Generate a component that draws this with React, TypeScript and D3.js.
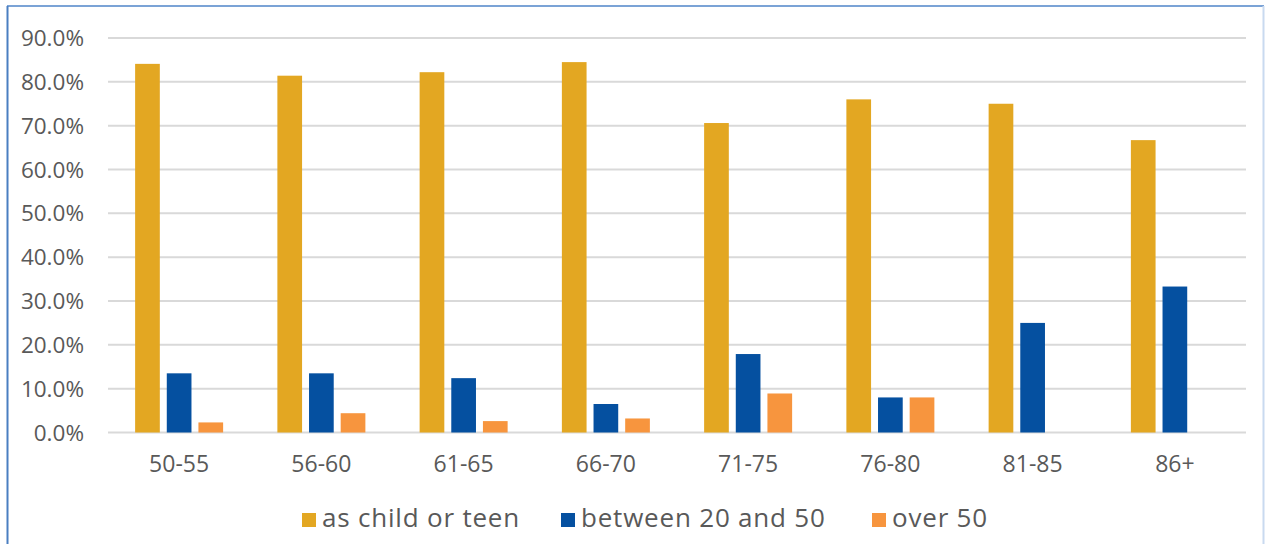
import React from "react";
import * as d3 from "d3";

const categories = ["50-55", "56-60", "61-65", "66-70", "71-75", "76-80", "81-85", "86+"];
const seriesNames = ["as child or teen", "between 20 and 50", "over 50"];
const childOrTeen = [0.841, 0.814, 0.822, 0.845, 0.706, 0.76, 0.75, 0.667];
const between20and50 = [0.135, 0.135, 0.124, 0.065, 0.179, 0.08, 0.25, 0.333];
const over50 = [0.023, 0.044, 0.026, 0.032, 0.089, 0.08, 0, 0];
const yTicks = [0, 0.1, 0.2, 0.3, 0.4, 0.5, 0.6, 0.7, 0.8, 0.9];
const colors = ["#E3A722", "#0550A0", "#F7953E"];

const W = 1265;
const H = 544;
const FONT = "'Open Sans', sans-serif";

export default function App() {
  const seriesValues = [childOrTeen, between20and50, over50];
  const x = d3.scaleBand<string>().domain(categories).range([108, 1246]).paddingInner(0).paddingOuter(0);
  const groupW = 88;
  const xSub = d3.scaleBand<string>().domain(seriesNames).range([0, groupW]).paddingInner(0.22);
  const y = d3.scaleLinear().domain([0, 0.9]).range([432.5, 38]);
  const fmt = d3.format(".1%");
  const off = (x.bandwidth() - groupW) / 2;

  const legendItems = [
    { name: seriesNames[0], x: 302, color: colors[0] },
    { name: seriesNames[1], x: 561, color: colors[1] },
    { name: seriesNames[2], x: 872, color: colors[2] },
  ];

  return (
    <svg width={W} height={H} style={{ position: "absolute", left: 0, top: 0, display: "block" }}>
      <rect x={0} y={0} width={W} height={H} fill="#fff" />
      <line x1={7} y1={6} x2={1264} y2={6} stroke="#7BA3D6" strokeWidth={2} />
      <line x1={7.5} y1={6} x2={7.5} y2={544} stroke="#4A7FC1" strokeWidth={2} />
      <line x1={1263.5} y1={6} x2={1263.5} y2={544} stroke="#C9DAF0" strokeWidth={2} />
      {yTicks.map((t) => (
        <g key={t}>
          <line x1={108} x2={1246} y1={y(t)} y2={y(t)} stroke="#D9D9D9" strokeWidth={2} />
          <text x={84} y={y(t)} dy="0.36em" textAnchor="end" fontFamily={FONT} fontSize={22.5} fill="#595959">
            {fmt(t)}
          </text>
        </g>
      ))}
      {categories.map((c, i) => (
        <g key={c}>
          {seriesNames.map((s, j) => {
            const v = seriesValues[j][i];
            if (!v) return null;
            return (
              <rect
                key={s}
                x={(x(c) as number) + off + (xSub(s) as number)}
                y={y(v)}
                width={xSub.bandwidth()}
                height={y(0) - y(v)}
                fill={colors[j]}
              />
            );
          })}
          <text
            x={(x(c) as number) + x.bandwidth() / 2}
            y={472}
            textAnchor="middle"
            fontFamily={FONT}
            fontSize={23}
            fill="#595959"
          >
            {c}
          </text>
        </g>
      ))}
      {legendItems.map((l) => (
        <g key={l.name}>
          <rect x={l.x} y={513} width={14} height={14} fill={l.color} />
          <text x={l.x + 20} y={527} fontFamily={FONT} fontSize={26} letterSpacing={0.8} fill="#595959">
            {l.name}
          </text>
        </g>
      ))}
    </svg>
  );
}
